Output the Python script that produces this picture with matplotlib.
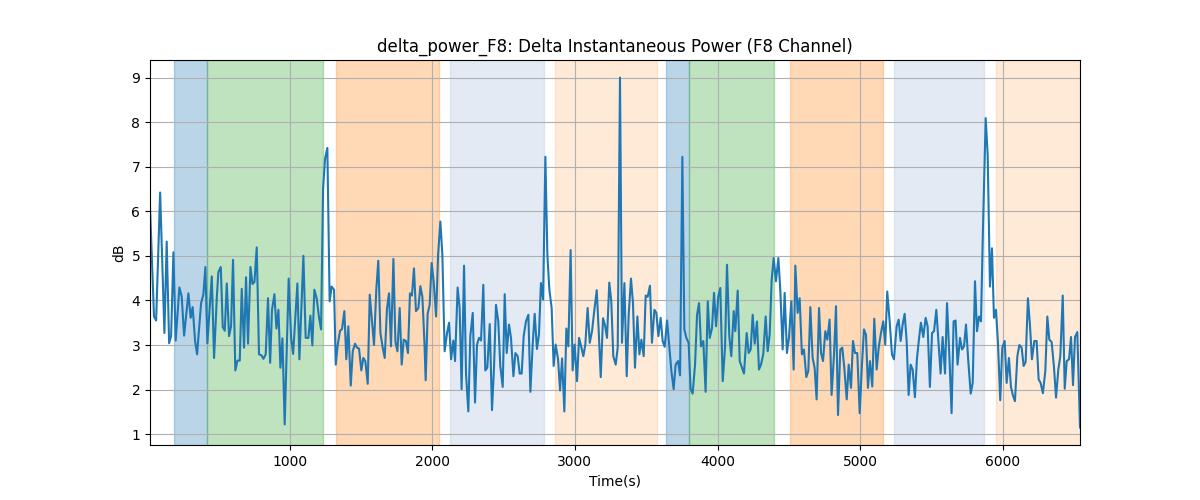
import matplotlib
matplotlib.use("Agg")
import matplotlib.pyplot as plt

# time stamps (s) and delta power (dB)
times = [
    22, 50, 65, 93, 123, 139, 156, 170, 186, 202, 228, 244, 261, 291, 307, 321,
    338, 352, 380, 396, 410, 424, 455, 471, 490, 501, 518, 532, 546, 560, 576, 590,
    604, 620, 635, 651, 665, 681, 695, 709, 726, 740, 754, 770, 786, 803, 817, 833,
    849, 864, 877, 894, 908, 922, 936, 950, 966, 994, 1011, 1025, 1055, 1069, 1097,
    1113, 1132, 1146, 1160, 1174, 1190, 1207, 1221, 1235, 1249, 1265, 1281, 1295, 1312,
    1324, 1338, 1354, 1368, 1384, 1398, 1412, 1429, 1443, 1459, 1473, 1487, 1503, 1517,
    1531, 1548, 1562, 1576, 1592, 1608, 1622, 1637, 1653, 1667, 1683, 1697, 1711, 1728,
    1742, 1756, 1772, 1786, 1800, 1816, 1830, 1844, 1858, 1872, 1886, 1903, 1917, 1931,
    1945, 1954, 1968, 1982, 1996, 2010, 2027, 2041, 2057, 2071, 2087, 2104, 2118, 2132,
    2148, 2160, 2178, 2192, 2206, 2223, 2237, 2253, 2267, 2284, 2300, 2314, 2328, 2342,
    2358, 2372, 2386, 2403, 2419, 2433, 2447, 2463, 2477, 2494, 2508, 2522, 2538, 2552,
    2569, 2583, 2599, 2613, 2627, 2641, 2657, 2674, 2688, 2704, 2718, 2734, 2748, 2762,
    2777, 2793, 2807, 2821, 2837, 2851, 2865, 2882, 2896, 2910, 2926, 2940, 2954, 2970,
    2984, 2998, 3015, 3029, 3045, 3059, 3073, 3089, 3104, 3120, 3134, 3153, 3167, 3181,
    3197, 3211, 3225, 3241, 3255, 3269, 3286, 3300, 3316, 3330, 3347, 3363, 3377, 3393,
    3407, 3421, 3438, 3452, 3466, 3482, 3496, 3510, 3526, 3540, 3557, 3571, 3585, 3601,
    3615, 3629, 3646, 3660, 3676, 3692, 3706, 3723, 3737, 3753, 3767, 3781, 3797, 3811,
    3825, 3842, 3856, 3870, 3884, 3900, 3916, 3931, 3945, 3961, 3975, 3989, 4005, 4019,
    4036, 4052, 4066, 4082, 4096, 4113, 4124, 4141, 4155, 4171, 4185, 4204, 4218, 4232,
    4246, 4260, 4276, 4290, 4304, 4320, 4337, 4351, 4365, 4379, 4393, 4409, 4426, 4440,
    4456, 4470, 4486, 4500, 4517, 4533, 4545, 4561, 4575, 4591, 4605, 4622, 4636, 4650,
    4666, 4680, 4694, 4711, 4725, 4739, 4755, 4769, 4785, 4799, 4816, 4830, 4844, 4860,
    4874, 4888, 4905, 4919, 4935, 4949, 4963, 4979, 4996, 5010, 5026, 5040, 5054, 5068,
    5084, 5098, 5115, 5129, 5145, 5161, 5175, 5189, 5206, 5222, 5236, 5255, 5269, 5283,
    5297, 5311, 5325, 5339, 5353, 5367, 5383, 5397, 5411, 5425, 5442, 5458, 5472, 5488,
    5503, 5517, 5533, 5549, 5563, 5577, 5594, 5608, 5624, 5640, 5654, 5668, 5682, 5699,
    5713, 5727, 5741, 5757, 5774, 5788, 5804, 5818, 5832, 5846, 5860, 5879, 5893, 5909,
    5923, 5937, 5951, 5965, 5981, 5995, 6012, 6026, 6042, 6056, 6070, 6084, 6101, 6115,
    6131, 6145, 6159, 6175, 6189, 6203, 6220, 6236, 6250, 6264, 6280, 6297, 6311, 6325,
    6341, 6357, 6372, 6388, 6402, 6419, 6433, 6447, 6463, 6477, 6491, 6505, 6521, 6540,
]
power_db = [
    6.10, 3.64, 3.55, 6.42, 3.27, 5.32, 3.04, 3.20, 5.08, 3.10, 4.29, 4.09, 3.21, 4.16, 3.61, 3.85,
    3.09, 2.79, 3.94, 4.13, 4.75, 3.04, 4.54, 2.71, 4.05, 4.63, 4.75, 3.40, 3.32, 4.38, 3.20, 3.42,
    4.91, 2.43, 2.65, 2.65, 4.26, 2.94, 4.52, 3.03, 4.75, 4.37, 4.41, 5.19, 2.79, 2.77, 2.69, 2.79,
    4.05, 2.60, 3.79, 4.14, 3.37, 3.79, 2.49, 3.15, 1.22, 4.49, 3.16, 2.80, 4.38, 2.68, 5.00,
    3.16, 3.16, 3.66, 2.99, 4.24, 4.05, 3.61, 3.35, 6.51, 7.18, 7.42, 3.98, 4.31, 4.24,
    2.56, 3.01, 3.32, 3.36, 3.76, 2.68, 3.42, 2.09, 2.86, 3.03, 2.94, 2.92, 2.43, 2.71,
    2.64, 2.13, 4.13, 3.61, 3.00, 4.24, 4.89, 3.27, 2.94, 2.71, 3.82, 4.16, 2.97, 4.93,
    3.07, 2.86, 3.83, 2.56, 3.12, 3.09, 2.82, 4.16, 4.11, 4.72, 3.76, 3.83, 4.32, 4.08,
    3.09, 2.21, 3.70, 3.90, 4.84, 4.43, 3.64, 5.02, 5.77, 5.02, 2.86, 3.27, 3.50, 2.68,
    3.10, 2.64, 4.29, 3.83, 2.01, 4.78, 2.34, 1.51, 3.20, 3.72, 1.71, 3.01, 3.16, 3.10,
    4.35, 2.43, 2.49, 3.47, 1.54, 2.49, 3.90, 3.53, 2.53, 2.06, 4.14, 2.82, 3.46, 3.16,
    2.30, 2.82, 2.75, 2.36, 2.36, 3.20, 3.53, 3.68, 1.95, 3.01, 3.70, 2.91, 3.23, 4.39,
    4.02, 7.22, 5.02, 4.24, 3.83, 2.53, 3.01, 2.68, 1.98, 2.70, 1.51, 3.37, 2.97, 5.13,
    2.43, 3.01, 2.19, 3.16, 2.95, 2.75, 3.01, 3.83, 3.05, 3.31, 3.72, 4.23, 3.30, 2.28,
    3.60, 3.44, 3.16, 4.40, 3.98, 2.75, 2.56, 2.94, 9.00, 3.05, 4.39, 2.30, 3.68, 4.49,
    3.94, 2.49, 3.64, 2.79, 3.12, 2.75, 4.11, 4.08, 4.33, 3.05, 3.79, 3.72, 3.20, 3.61,
    3.09, 2.96, 3.55, 3.01, 2.42, 2.01, 2.56, 2.64, 2.32, 7.22, 3.35, 3.16, 3.05, 2.01,
    1.91, 2.56, 3.68, 3.94, 2.97, 3.09, 1.95, 3.98, 3.16, 3.38, 4.17, 3.42, 4.09, 4.28,
    2.19, 2.94, 4.80, 3.20, 2.75, 3.76, 3.31, 4.22, 2.64, 2.49, 2.36, 3.27, 2.82, 2.90,
    3.68, 3.03, 3.53, 2.45, 2.56, 2.79, 3.64, 2.86, 3.23, 4.46, 4.95, 4.43, 4.95, 4.20,
    2.90, 4.17, 2.82, 3.16, 3.98, 2.45, 4.78, 3.72, 4.05, 2.79, 2.90, 2.28, 2.42, 3.85,
    2.71, 2.49, 1.78, 3.83, 2.82, 2.64, 3.31, 3.12, 3.57, 1.88, 2.79, 3.87, 1.43, 2.90,
    2.94, 2.49, 1.78, 2.56, 2.04, 3.09, 2.82, 2.82, 1.47, 2.45, 3.35, 3.23, 2.04, 2.64,
    2.07, 3.59, 2.45, 2.94, 3.27, 3.53, 3.01, 4.20, 3.53, 2.79, 2.68, 3.42, 3.57, 3.09,
    3.46, 3.70, 3.09, 1.88, 2.56, 2.45, 1.83, 2.68, 3.12, 3.50, 3.18, 3.61, 3.42, 2.06,
    3.27, 3.31, 3.79, 3.01, 2.36, 3.18, 2.36, 3.94, 2.79, 1.47, 3.53, 3.55, 2.56, 3.16,
    2.90, 2.97, 3.46, 2.64, 1.91, 2.15, 4.43, 3.31, 3.64, 3.53, 5.62, 8.09, 7.26, 4.31,
    5.17, 3.61, 3.79, 3.05, 1.76, 2.94, 3.09, 2.15, 2.71, 2.06, 1.87, 1.74, 2.75, 3.00,
    2.94, 2.53, 2.62, 4.05, 3.46, 2.68, 3.09, 3.09, 2.23, 2.15, 1.92, 2.42, 3.64, 3.12,
    3.07, 2.53, 1.82, 2.45, 2.75, 4.11, 2.02, 2.64, 2.68, 3.18, 2.10, 3.18, 3.29, 1.15,
]

# shaded intervals: (start, end, color, alpha)
span_starts = [190, 422, 1327, 2125, 2860, 3638, 3800, 4507, 5236, 5950]
span_ends = [422, 1236, 2045, 2785, 3575, 3800, 4393, 5157, 5867, 6600]
span_colors = ["tab:blue", "tab:green", "tab:orange", "lightsteelblue", "tab:orange",
               "tab:blue", "tab:green", "tab:orange", "lightsteelblue", "tab:orange"]
span_alphas = [0.3, 0.3, 0.3, 0.35, 0.16, 0.3, 0.3, 0.3, 0.35, 0.16]

fig, ax = plt.subplots(figsize=(12, 5), dpi=100)

for s, e, c, a in zip(span_starts, span_ends, span_colors, span_alphas):
    ax.axvspan(s, e, color=c, alpha=a)

ax.plot(times, power_db, color="tab:blue", linewidth=1.5)

ax.set_xlim(times[0], times[-1])
ax.set_title("delta_power_F8: Delta Instantaneous Power (F8 Channel)")
ax.set_xlabel("Time(s)")
ax.set_ylabel("dB")
ax.grid(True)

fig.savefig("out.png")
